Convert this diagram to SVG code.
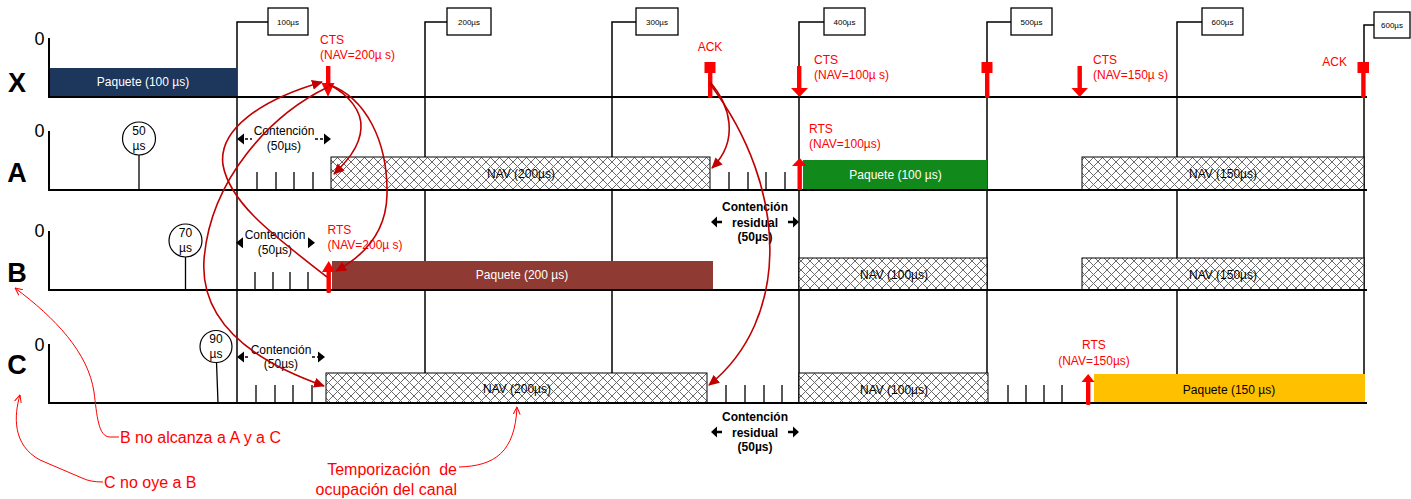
<svg xmlns="http://www.w3.org/2000/svg" width="1411" height="499" viewBox="0 0 1411 499">
<defs>
<style>
text{font-family:'Liberation Sans',Arial,sans-serif}
.ax{stroke:#000;stroke-width:2;fill:none}
.grid{stroke:#000;stroke-width:1.5;fill:none}
.tick{stroke:#000;stroke-width:1.3}
.tbox{fill:#fff;stroke:#000;stroke-width:1.3}
.tlab{font-size:8px;text-anchor:middle}
.zero{font-size:18px;text-anchor:middle}
.row{font-size:27px;font-weight:bold;text-anchor:middle}
.nav{fill:url(#hatch);stroke:#000;stroke-width:1}
.c12{font-size:12px;text-anchor:middle}
.w{fill:#fff}
.r{fill:#ff0000;font-size:12px}
.rm{fill:#ff0000;font-size:12px;text-anchor:middle}
.cb{font-size:12px;font-weight:bold;text-anchor:middle}
.circ{fill:#fff;stroke:#000;stroke-width:1.2}
.dr{fill:none;stroke:#c00000;stroke-width:1.6;marker-end:url(#ahd)}
.an{fill:none;stroke:#ff0000;stroke-width:1;marker-end:url(#aho)}
.ann{fill:#ff0000;font-size:16px}
.rf{fill:#ff0000}
.bk{fill:#000}
.dash{stroke:#000;stroke-width:1.5;stroke-dasharray:3 2}
</style>
<pattern id="hatch" width="9" height="9" patternUnits="userSpaceOnUse">
<rect width="9" height="9" fill="#fff"/>
<path d="M0,0L9,9M9,0L0,9" stroke="#6a6a6a" stroke-width="1"/>
</pattern>
<marker id="ahd" viewBox="0 0 11 10" refX="10" refY="5" markerWidth="11" markerHeight="10" markerUnits="userSpaceOnUse" orient="auto">
<path d="M0,0L11,5L0,10z" fill="#c00000"/>
</marker>
<marker id="aho" viewBox="0 0 8 8" refX="7.5" refY="4" markerWidth="8" markerHeight="8" markerUnits="userSpaceOnUse" orient="auto">
<path d="M0,0.5L7.5,4L0,7.5" fill="none" stroke="#ff0000" stroke-width="1"/>
</marker>
</defs>
<rect width="1411" height="499" fill="#fff"/>

<g id="time-markers">
<path class="grid" d="M237,403V22H268"/>
<rect class="tbox" x="268" y="8" width="40" height="27"/>
<text class="tlab" x="288" y="24.5">100µs</text>
<path class="grid" d="M425,403V22H447"/>
<rect class="tbox" x="447" y="8" width="44" height="27"/>
<text class="tlab" x="469" y="24.5">200µs</text>
<path class="grid" d="M612,403V22H636"/>
<rect class="tbox" x="636" y="8" width="42" height="27"/>
<text class="tlab" x="657" y="24.5">300µs</text>
<path class="grid" d="M799,403V22H824"/>
<rect class="tbox" x="824" y="8" width="41" height="27"/>
<text class="tlab" x="844.5" y="24.5">400µs</text>
<path class="grid" d="M987,403V22H1011"/>
<rect class="tbox" x="1011" y="8" width="41" height="27"/>
<text class="tlab" x="1031.5" y="24.5">500µs</text>
<path class="grid" d="M1177,403V22H1202"/>
<rect class="tbox" x="1202" y="8" width="41" height="27"/>
<text class="tlab" x="1222.5" y="24.5">600µs</text>
<path class="grid" d="M1364,403V25H1374"/>
<rect class="tbox" x="1374" y="12" width="36" height="26"/>
<text class="tlab" x="1392" y="28">600µs</text>
</g>

<g id="row-X">
<text class="zero" x="39.5" y="45">0</text>
<text class="row" x="17" y="92">X</text>
<rect x="49" y="68" width="188" height="29" fill="#1c365c"/>
<text class="c12 w" x="143" y="86">Paquete (100 µs)</text>
<path class="ax" d="M49,38V97H1367"/>
</g>

<g id="row-A">
<text class="zero" x="39.5" y="137">0</text>
<text class="row" x="17" y="182">A</text>
<rect class="nav" x="331" y="157" width="379" height="33"/>
<text class="c12" x="521" y="177.5">NAV (200µs)</text>
<rect x="803" y="160" width="184" height="30" fill="#128a1b"/>
<text class="c12 w" x="895.5" y="178.5">Paquete (100 µs)</text>
<rect class="nav" x="1082" y="157" width="282" height="33"/>
<text class="c12" x="1223" y="177.5">NAV (150µs)</text>
<path class="ax" d="M49,131V190H1367"/>
<path class="tick" d="M139,155V190M257,172V190M276,172V190M294,172V190M313,172V190M729,172V190M748,172V190M766,172V190M785,172V190"/>
<circle class="circ" cx="139" cy="138.5" r="16.5"/>
<text class="c12" x="139" y="135">50</text>
<text class="c12" x="139" y="150">µs</text>
<text class="c12" x="284" y="135">Contención</text>
<text class="c12" x="284" y="150">(50µs)</text>
<path class="dash" d="M245,139H252M315,139H323"/>
<path class="bk" d="M237,139L244,133.5V144.5zM331,139L324,133.5V144.5z"/>
</g>

<g id="row-B">
<text class="zero" x="39.5" y="237">0</text>
<text class="row" x="17" y="282">B</text>
<rect x="332" y="261" width="381" height="29" fill="#8f3a33"/>
<text class="c12 w" x="522" y="279.3">Paquete (200 µs)</text>
<rect class="nav" x="799" y="258" width="188" height="32"/>
<text class="c12" x="894" y="279.3">NAV (100µs)</text>
<rect class="nav" x="1082" y="258" width="282" height="32"/>
<text class="c12" x="1223" y="278.6">NAV (150µs)</text>
<path class="ax" d="M49,231V290H1367"/>
<path class="tick" d="M185.5,257V290M255,272V290M273,272V290M290,272V290M308,272V290"/>
<circle class="circ" cx="185.5" cy="240.5" r="16.5"/>
<text class="c12" x="185.5" y="236.5">70</text>
<text class="c12" x="185.5" y="251.5">µs</text>
<text class="c12" x="275" y="238.6">Contención</text>
<text class="c12" x="275" y="254.3">(50µs)</text>
<path class="bk" d="M236,242.7L243,237.2V248.2zM315,242.7L308,237.2V248.2z"/>
<text class="cb" x="755" y="211">Contención</text>
<text class="cb" x="755" y="226.5">residual</text>
<text class="cb" x="755" y="241">(50µs)</text>
<path class="bk" d="M711,222L717,216.5V220.8H722V223.2H717V227.5zM799,222L793,216.5V220.8H788V223.2H793V227.5z"/>
</g>

<g id="row-C">
<text class="zero" x="39.5" y="351">0</text>
<text class="row" x="17" y="374">C</text>
<rect class="nav" x="326" y="373" width="381" height="30"/>
<text class="c12" x="517" y="393">NAV (200µs)</text>
<rect class="nav" x="799" y="373" width="189" height="30"/>
<text class="c12" x="894" y="393.5">NAV (100µs)</text>
<rect x="1094" y="374" width="271" height="29" fill="#ffc000"/>
<text class="c12" x="1229" y="393.5">Paquete (150 µs)</text>
<path class="ax" d="M49,344V403H1367"/>
<path class="tick" d="M216.5,362L218,403M256,385V403M275,385V403M293,385V403M312,385V403M726,385V403M745,385V403M764,385V403M782,385V403M1008,385V403M1026,385V403M1044,385V403M1062,385V403"/>
<circle class="circ" cx="216" cy="346.5" r="16"/>
<text class="c12" x="216" y="343.3">90</text>
<text class="c12" x="216" y="357.6">µs</text>
<text class="c12" x="281" y="353.6">Contención</text>
<text class="c12" x="281" y="368.3">(50µs)</text>
<path class="dash" d="M245,357H250M312,357H319"/>
<path class="bk" d="M237,357L244,351.5V362.5zM325,357L318,351.5V362.5z"/>
<text class="cb" x="755" y="421">Contención</text>
<text class="cb" x="755" y="436.5">residual</text>
<text class="cb" x="755" y="451">(50µs)</text>
<path class="bk" d="M711,432L717,426.5V430.8H722V433.2H717V437.5zM799,432L793,426.5V430.8H788V433.2H793V437.5z"/>
</g>

<g id="frames">
<text class="r" x="320" y="44">CTS</text>
<text class="r" x="320" y="59">(NAV=200µ s)</text>
<rect class="rf" x="326" y="66" width="4.4" height="19"/>
<path class="rf" d="M321.5,83H334.5L328,97z"/>
<text class="rm" x="710" y="51">ACK</text>
<rect class="rf" x="704.5" y="62" width="11" height="11"/>
<rect class="rf" x="708" y="72" width="4.4" height="26" rx="1.5"/>
<text class="r" x="814" y="64">CTS</text>
<text class="r" x="814" y="79">(NAV=100µ s)</text>
<rect class="rf" x="797" y="66" width="4.4" height="23"/>
<path class="rf" d="M791,88H808L799.5,97z"/>
<rect class="rf" x="981.5" y="62" width="11" height="11"/>
<rect class="rf" x="985" y="72" width="4.4" height="26" rx="1.5"/>
<text class="r" x="1093" y="64">CTS</text>
<text class="r" x="1093" y="79">(NAV=150µ s)</text>
<rect class="rf" x="1077.5" y="66" width="4.4" height="23"/>
<path class="rf" d="M1071.5,88H1088L1079.7,97z"/>
<text class="r" x="1347" y="66" text-anchor="end">ACK</text>
<rect class="rf" x="1357.5" y="62" width="11.5" height="11"/>
<rect class="rf" x="1361.2" y="72" width="4.4" height="26" rx="1.5"/>
<text class="r" x="809" y="132.5">RTS</text>
<text class="r" x="809" y="148">(NAV=100µs)</text>
<rect class="rf" x="797.5" y="165" width="4.4" height="25"/>
<path class="rf" d="M792,166H807L799.7,158z"/>
<text class="r" x="327.5" y="234">RTS</text>
<text class="r" x="327.5" y="249">(NAV=200µ s)</text>
<rect class="rf" x="326.5" y="270" width="4.4" height="23" rx="1.5"/>
<path class="rf" d="M322,272H335L328.7,261z"/>
<text class="rm" x="1094" y="349">RTS</text>
<text class="rm" x="1094" y="365">(NAV=150µs)</text>
<rect class="rf" x="1086" y="381" width="4.4" height="24" rx="1.5"/>
<path class="rf" d="M1081.5,382H1094.5L1088.2,374z"/>
</g>

<g id="connectors">
<path class="dr" d="M328,84C350,95 362,112 361,128C360,148 345,163 334,174"/>
<path class="dr" d="M330,85C365,98 388,140 387,195C386,235 360,258 336,271"/>
<path class="dr" d="M327,277C280,240 230,205 223,165C218,130 260,100 322,82"/>
<path class="dr" d="M328,87C270,115 210,180 204,260C200,320 250,360 324,386"/>
<path class="dr" d="M710,82C730,105 740,140 712,168"/>
<path class="dr" d="M710,84C790,190 790,320 709,385"/>
<path class="an" d="M119,437L110,437C98,437 97,415 94,392C88,352 55,318 15,288"/>
<path class="an" d="M103,482Q90,482 82,478L40,460C12,445 14,415 20,395"/>
<path class="an" d="M459,467C495,466 515,452 517,407"/>
</g>

<g id="annotations">
<text class="ann" x="120" y="443">B no alcanza a A y a C</text>
<text class="ann" x="104" y="488">C no oye a B</text>
<text class="ann" x="457" y="475" text-anchor="end" xml:space="preserve">Temporización  de</text>
<text class="ann" x="457" y="495" text-anchor="end">ocupación del canal</text>
</g>
</svg>
